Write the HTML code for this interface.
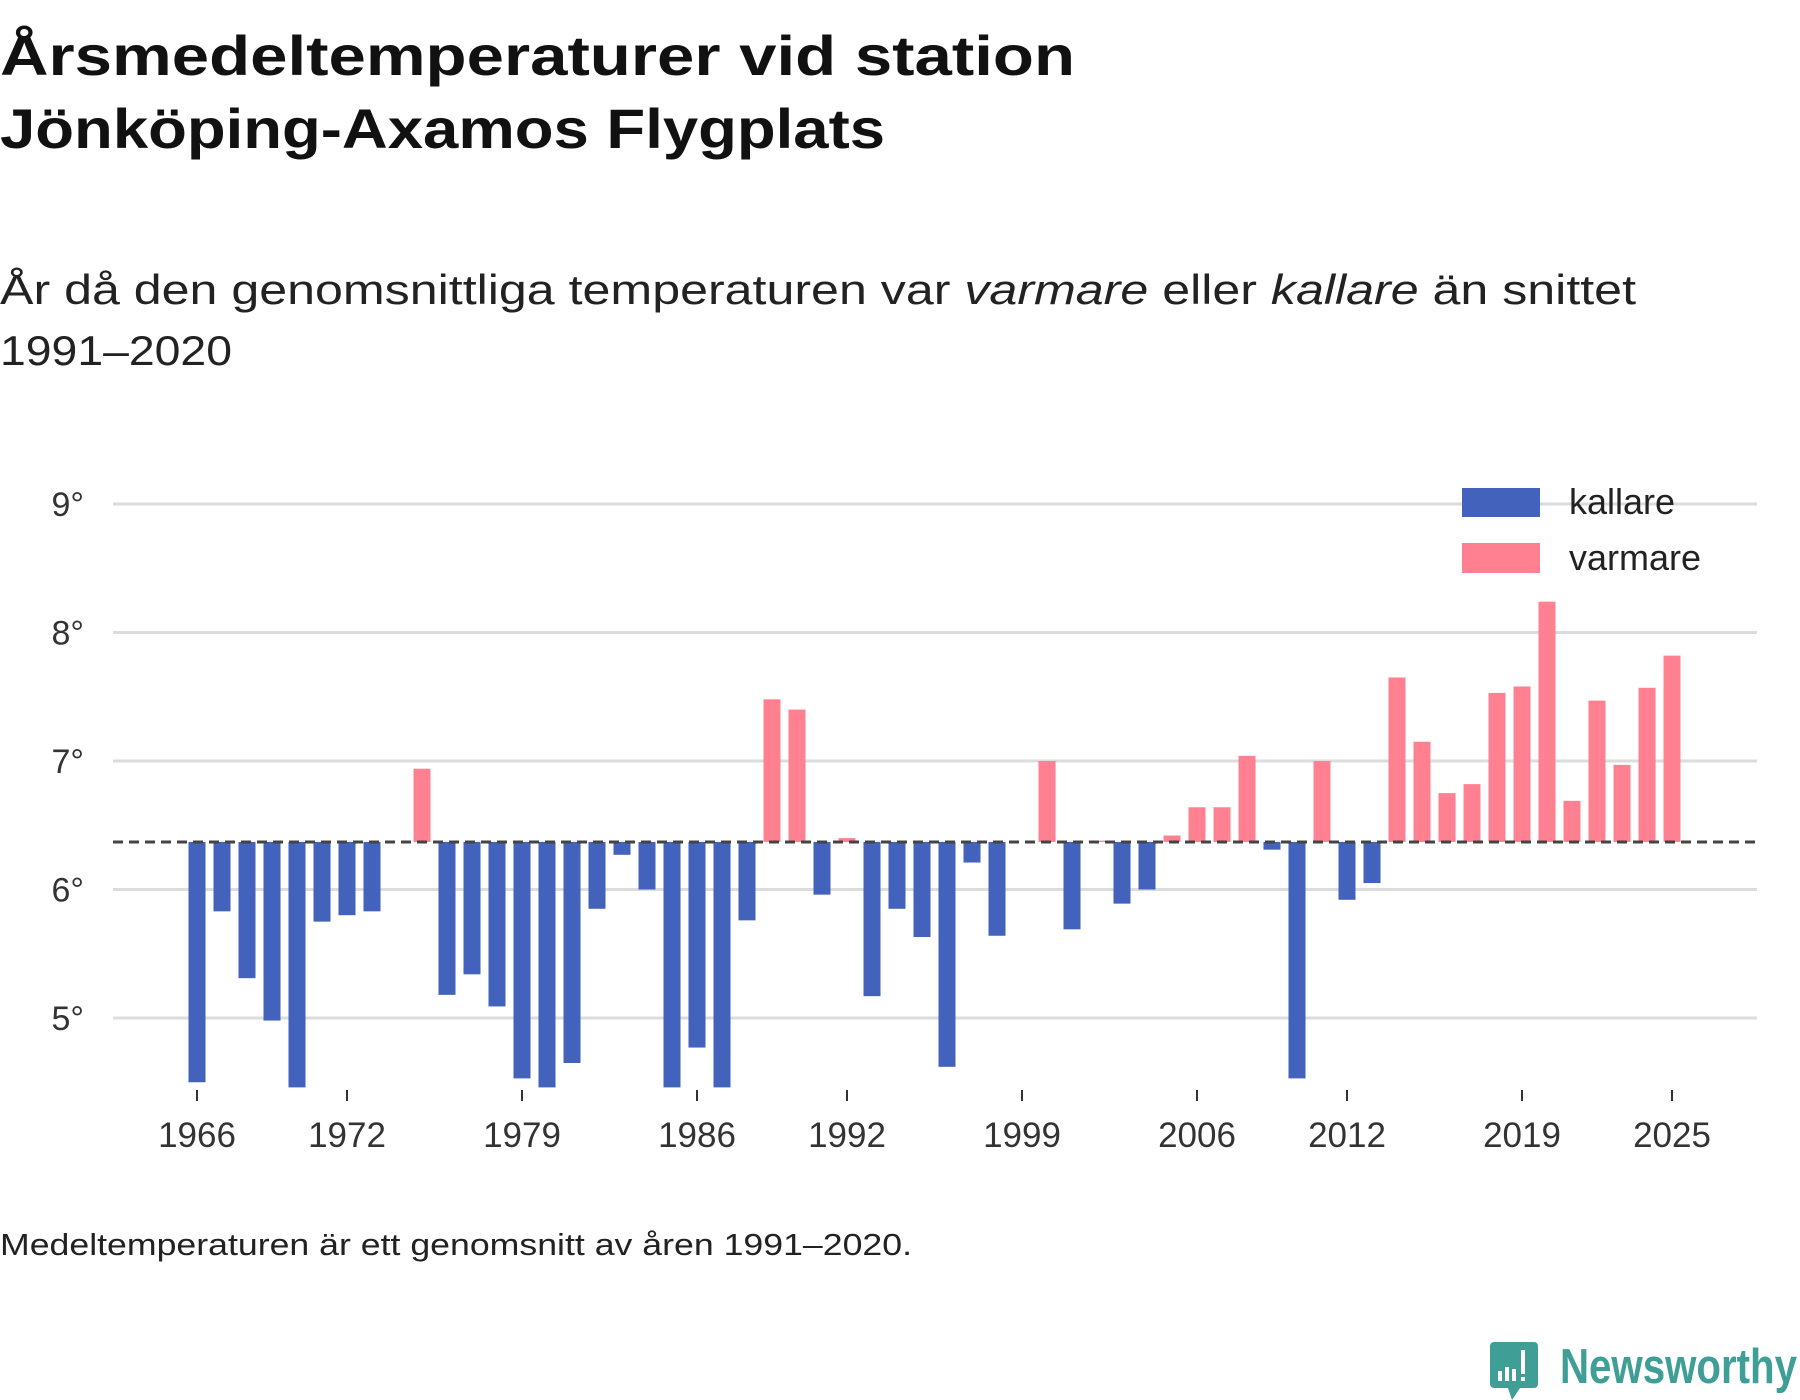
<!DOCTYPE html>
<html><head><meta charset="utf-8"><style>
html,body{margin:0;padding:0;background:#fff;}
svg{display:block;font-family:"Liberation Sans",sans-serif;}
</style></head><body>
<svg id="chart" width="1800" height="1400" viewBox="0 0 1800 1400" xmlns="http://www.w3.org/2000/svg">
<text x="0" y="75" font-size="56" font-weight="bold" fill="#111" textLength="1075" lengthAdjust="spacingAndGlyphs">Årsmedeltemperaturer vid station</text>
<text x="0" y="148" font-size="56" font-weight="bold" fill="#111" textLength="885" lengthAdjust="spacingAndGlyphs">Jönköping-Axamos Flygplats</text>
<text x="0" y="304" font-size="42" fill="#222" textLength="1636" lengthAdjust="spacingAndGlyphs">År då den genomsnittliga temperaturen var <tspan font-style="italic">varmare</tspan> eller <tspan font-style="italic">kallare</tspan> än snittet</text>
<text x="0" y="365" font-size="42" fill="#222" textLength="232" lengthAdjust="spacingAndGlyphs">1991–2020</text>
<g id="grid"></g>
<g id="bars"></g>
<g id="axes"></g>
<g>
<rect x="1462" y="488" width="78" height="29" fill="#4262bb"/>
<text x="1569" y="514" font-size="36" fill="#222">kallare</text>
<rect x="1462" y="543" width="78" height="30" fill="#ff8191"/>
<text x="1569" y="570" font-size="36" fill="#222">varmare</text>
</g>
<text x="0" y="1255" font-size="31" fill="#222" textLength="912" lengthAdjust="spacingAndGlyphs">Medeltemperaturen är ett genomsnitt av åren 1991–2020.</text>
<g>
<path d="M1494 1342 h40 a4 4 0 0 1 4 4 v38 a4 4 0 0 1 -4 4 h-14 l-8 12 l-4 -12 h-14 a4 4 0 0 1 -4 -4 v-38 a4 4 0 0 1 4 -4z" fill="#3f9e96"/>
<rect x="1498" y="1371" width="4" height="10" fill="#fff"/><rect x="1505" y="1367" width="4" height="14" fill="#fff"/><rect x="1512" y="1369" width="4" height="12" fill="#fff"/><rect x="1521" y="1350" width="4" height="24" fill="#fff"/><rect x="1521" y="1377" width="4" height="4" fill="#fff"/>
<text x="1560" y="1383" font-size="49" font-weight="bold" fill="#3f9e96" textLength="237" lengthAdjust="spacingAndGlyphs">Newsworthy</text>
</g>
</svg>
<script>
const years = [1966,1967,1968,1969,1970,1971,1972,1973,1974,1975,1976,1977,1978,1979,1980,1981,1982,1983,1984,1985,1986,1987,1988,1989,1990,1991,1992,1993,1994,1995,1996,1997,1998,1999,2000,2001,2002,2003,2004,2005,2006,2007,2008,2009,2010,2011,2012,2013,2014,2015,2016,2017,2018,2019,2020,2021,2022,2023,2024,2025];
const temps = [4.50,5.83,5.31,4.98,4.46,5.75,5.80,5.83,null,6.94,5.18,5.34,5.09,4.53,4.46,4.65,5.85,6.27,6.00,4.46,4.77,4.46,5.76,7.48,7.40,5.96,6.40,5.17,5.85,5.63,4.62,6.21,5.64,null,7.00,5.69,6.38,5.89,6.00,6.42,6.64,6.64,7.04,6.31,4.53,7.00,5.92,6.05,7.65,7.15,6.75,6.82,7.53,7.58,8.24,6.69,7.47,6.97,7.57,7.82];
const baseline = 6.37;
const yTicks = [5,6,7,8,9];
const xTicks = [1966,1972,1979,1986,1992,1999,2006,2012,2019,2025];

const NS='http://www.w3.org/2000/svg';
const yMin=4.46;
const y = v => 504 + (9 - Math.max(v,yMin)) * 128.5;
const x = yr => 197 + (yr - 1966) * 25.0;
const grid=document.getElementById('grid'), bars=document.getElementById('bars'), axes=document.getElementById('axes');
function mk(tag, attrs, parent){const e=document.createElementNS(NS,tag);for(const k in attrs)e.setAttribute(k,attrs[k]);parent.appendChild(e);return e;}
yTicks.forEach(t=>{
  const l=mk('line',{x1:113,x2:1757,y1:y(t),y2:y(t),stroke:'#dcdcdc','stroke-width':3},grid);
  
  
  const tx=mk('text',{x:84,y:y(t)+12,'text-anchor':'end','font-size':34,fill:'#333'},axes);
  tx.textContent=t+'°';
  
  
});
years.forEach((yr,i)=>{
  const v=temps[i]; if(v==null) return;
  const top=Math.min(y(v),y(baseline)), h=Math.abs(y(v)-y(baseline));
  const r=mk('rect',{x:x(yr)-8.5,y:top,width:17,height:Math.max(h,1),fill:v>=baseline?'#ff8191':'#4262bb'},bars);
  
  
});
const bl=mk('line',{x1:113,x2:1757,y1:y(baseline),y2:y(baseline),stroke:'#444','stroke-width':3,'stroke-dasharray':'10,6'},axes);


xTicks.forEach(t=>{
  const l=mk('line',{x1:x(t),x2:x(t),y1:1090,y2:1101,stroke:'#333','stroke-width':2},axes);
  
  
  const tx=mk('text',{x:x(t),y:1147,'text-anchor':'middle','font-size':35,fill:'#333'},axes);
  tx.textContent=t;
  
  
});
</script>
</body></html>
